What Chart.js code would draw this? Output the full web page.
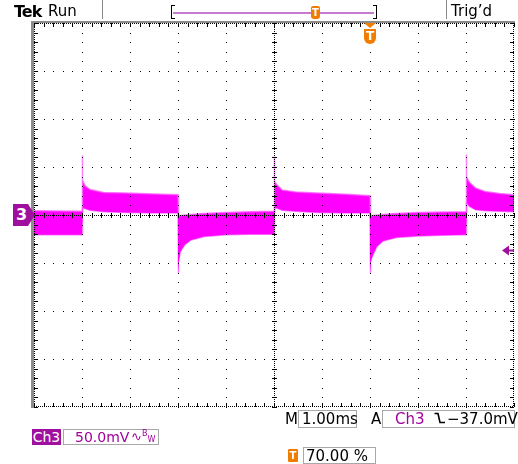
<!DOCTYPE html>
<html>
<head>
<meta charset="utf-8">
<script src="https://cdn.jsdelivr.net/npm/chart.js@4.4.1/dist/chart.umd.min.js"></script>
<style>
  html, body { margin: 0; padding: 0; background: #fff; }
  #wrap { position: relative; width: 518px; height: 464px; overflow: hidden;
          font-family: "DejaVu Sans", sans-serif; color: #000; }
  #wrap canvas { position: absolute; left: 0; top: 0; }
  .t { position: absolute; white-space: nowrap; line-height: 1; }
  .box { position: absolute; border: 1px solid #a8a8a8; box-sizing: border-box; }
  .sep { position: absolute; width: 1px; background: #8a8a8a; }
  .purple { color: #a0009c; }
  .tbadge { position: absolute; background: #f07c00; color: #fff; font: bold 10px "DejaVu Sans", sans-serif;
            text-align: center; }
</style>
</head>
<body>
<div id="wrap">
  <canvas id="scope"></canvas>

  <!-- status line on top -->
  <div class="t" style="left:14px;top:4px;font-size:16px;font-weight:bold;letter-spacing:-1px">Tek</div>
  <div class="t" style="left:48px;top:4px;font-size:15px">Run</div>
  <div class="sep" style="left:102px;top:0;height:19px"></div>
  <div style="position:absolute;left:171px;top:5px;width:3px;height:12px;border:1px solid #000;border-right:none"></div>
  <div style="position:absolute;left:373px;top:5px;width:3px;height:12px;border:1px solid #000;border-left:none"></div>
  <div style="position:absolute;left:173px;top:12px;width:201px;height:2px;background:#c77ad0"></div>
  <div class="tbadge" style="left:311px;top:6px;width:9px;height:13px;line-height:14px;border-radius:2px 2px 3px 3px">T</div>
  <div class="sep" style="left:446px;top:0;height:19px"></div>
  <div class="t" style="left:451px;top:4px;font-size:15px">Trig’d</div>

  <!-- markers placed from the scales -->
  <div id="mark3" style="position:absolute;left:13px;top:204px;width:22px;height:22px;background:#a0109f;
       clip-path:polygon(0 0,68% 0,100% 50%,68% 100%,0 100%)">
    <div class="t" style="left:3px;top:3px;font-size:16px;font-weight:bold;color:#fff">3</div>
  </div>
  <div id="trigMark" style="position:absolute;left:364px;top:23px;width:12px;height:21px">
    <div style="position:absolute;left:0;top:0;width:12px;height:5px;background:#f07c00;clip-path:polygon(0 0,100% 0,50% 100%)"></div>
    <div class="tbadge" style="left:0;top:6px;width:12px;height:15px;line-height:14px;font-size:12px;border-radius:0 0 6px 6px">T</div>
  </div>

  <!-- readouts below -->
  <div class="t" style="left:285px;top:412px;font-size:15px">M</div>
  <div class="box" style="left:298px;top:410px;width:59px;height:18px"></div>
  <div class="t" id="tbText" style="left:302px;top:412px;font-size:15px"></div>
  <div class="t" style="left:371px;top:412px;font-size:15px">A</div>
  <div class="box" style="left:382px;top:410px;width:133px;height:18px"></div>
  <div class="t purple" style="left:395px;top:412px;font-size:15px">Ch3</div>
  <svg style="position:absolute;left:434px;top:412px" width="12" height="12"><path d="M0.5 1.5 H4 L6 10.5 H11" stroke="#000" stroke-width="1.6" fill="none"/></svg>
  <div class="t" id="lvlText" style="left:447px;top:412px;font-size:15px"></div>

  <div class="t" style="left:32px;top:429px;width:29px;height:16px;background:#a0109f;color:#fff;font-size:14px;line-height:16px;text-align:center">Ch3</div>
  <div class="box" style="left:63px;top:429px;width:96px;height:16px"></div>
  <div class="t purple" id="vdivText" style="left:75px;top:430px;font-size:14px"></div>
  <div class="t purple" style="left:131px;top:430px;font-size:13px">∿<span style="font-size:8px;vertical-align:5px">B</span><span style="font-size:8px;vertical-align:-1px">W</span></div>

  <div class="tbadge" style="left:288px;top:449px;width:10px;height:13px;line-height:13px;border-radius:1px">T</div>
  <div class="box" style="left:303px;top:447px;width:73px;height:17px"></div>
  <div class="t" id="posText" style="left:306px;top:449px;font-size:15px"></div>
</div>

<script>
// scope settings
const msPerDiv = 1;
const mvPerDiv = 50;
const timeLeft = -7;      // trigger at 70% of screen
const timeRight = 3;
const voltTop = 200;
const voltBottom = -200;
const trigLevelMv = -37.0;
const timebaseLabel = "1.00ms";
const voltsLabel = "50.0mV";
const trigPosLabel = "70.00 %";

// Ch3 trace envelope (noisy band): time in ms, upper and lower edge in mV
const timeMs = [
  -7, -6, -6, -5.98, -5.93, -5.83, -5.55, -5.1, -4.5, -4,
  -4, -3.98, -3.95, -3.86, -3.73, -3.45, -3, -2.5, -2,
  -2, -1.98, -1.93, -1.83, -1.55, -1.1, -0.5, 0,
  0, 0.02, 0.05, 0.14, 0.27, 0.55, 1, 1.5, 2,
  2, 2.02, 2.07, 2.2, 2.4, 2.7, 3
];
const upperMv = [
  4.5, 4, 62, 36, 30, 26.5, 23.5, 23, 22, 21,
  -3, -1.5, -0.5, 0, 0.5, 1.5, 2.5, 3.5, 4,
  61, 35, 31, 26, 24, 22.8, 21.5, 20,
  -3, -1.5, -0.5, 0, 0.5, 1.5, 2.5, 3, 3.5,
  63, 40, 34, 28, 24.5, 22.5, 21
];
const lowerMv = [
  -20.5, -20.5, 8, 7.5, 6.5, 5, 3.5, 2.5, 2, 2,
  -60.5, -48, -38, -31, -26, -22.5, -20.5, -20, -20,
  8, 7.5, 7, 5, 3.8, 2.5, 2, 2,
  -60.5, -48, -43, -33, -27, -23.5, -22, -21, -20.5,
  13, 12.5, 9, 5.5, 4.5, 4, 3.5
];

document.getElementById("tbText").textContent = timebaseLabel;
document.getElementById("lvlText").textContent = "\u2212" + Math.abs(trigLevelMv).toFixed(1) + "mV";
document.getElementById("vdivText").textContent = voltsLabel;
document.getElementById("posText").textContent = trigPosLabel;

const traceColor = "#ff00ff";
const fringeColor = "rgba(255, 90, 255, 0.75)";

// dotted graticule, drawn on top of the trace like on the scope screen
const graticule = {
  id: "graticule",
  afterDatasetsDraw(chart) {
    const { ctx, chartArea: a, scales: { x, y } } = chart;
    const L = Math.round(a.left), R = Math.round(a.right), T = Math.round(a.top), B = Math.round(a.bottom);
    const dot = (px, py) => ctx.fillRect(Math.round(px), Math.round(py), 1, 1);
    ctx.save();

    // frame
    ctx.fillStyle = "#8c8c8c";
    ctx.fillRect(L - 3, T - 2, 3, B - T + 3);
    ctx.fillRect(L - 3, T - 2, R - L + 4, 2);

    ctx.fillStyle = "#000";
    const minorT = msPerDiv / 5, minorV = mvPerDiv / 5;

    // major divisions
    for (let t = timeLeft + msPerDiv; t < timeRight - 0.001; t += msPerDiv) {
      const px = x.getPixelForValue(t);
      for (let v = voltBottom; v <= voltTop + 0.001; v += minorV) dot(px, y.getPixelForValue(v));
    }
    for (let v = voltBottom + mvPerDiv; v < voltTop - 0.001; v += mvPerDiv) {
      const py = y.getPixelForValue(v);
      for (let t = timeLeft; t <= timeRight + 0.001; t += minorT) dot(x.getPixelForValue(t), py);
    }

    // centre lines with minor ticks
    const cx = Math.round(x.getPixelForValue(timeLeft + 5 * msPerDiv));
    const cy = Math.round(y.getPixelForValue(0));
    for (let px = L; px <= R; px += 2) dot(px, cy);
    for (let py = T; py <= B; py += 2) dot(cx, py);
    for (let t = timeLeft; t <= timeRight + 0.001; t += minorT) {
      const px = Math.round(x.getPixelForValue(t));
      ctx.fillRect(px, cy - 2, 1, 5);
    }
    for (let v = voltBottom; v <= voltTop + 0.001; v += minorV) {
      const py = Math.round(y.getPixelForValue(v));
      ctx.fillRect(cx - 2, py, 5, 1);
    }

    // border: dense dots and inward ticks
    for (let px = L; px <= R; px += 2) { dot(px, T); dot(px, B - 1); }
    for (let py = T; py <= B; py += 2) { dot(L, py); dot(R - 1, py); }
    for (let t = timeLeft; t <= timeRight + 0.001; t += minorT) {
      const px = Math.round(x.getPixelForValue(t));
      ctx.fillRect(px, T, 1, 4);
      ctx.fillRect(px, B - 4, 1, 4);
    }
    for (let v = voltBottom; v <= voltTop + 0.001; v += minorV) {
      const py = Math.round(y.getPixelForValue(v));
      ctx.fillRect(L, py, 4, 1);
      ctx.fillRect(R - 4, py, 4, 1);
    }

    // trigger level arrow on the right edge
    const ty = y.getPixelForValue(trigLevelMv);
    ctx.fillStyle = "#a0109f";
    ctx.beginPath();
    ctx.moveTo(R - 12, ty);
    ctx.lineTo(R - 5, ty - 5);
    ctx.lineTo(R - 5, ty + 5);
    ctx.closePath();
    ctx.fill();
    ctx.fillRect(R - 6, ty - 1, 6, 2);
    ctx.restore();

    // channel and trigger markers follow the scales
    document.getElementById("mark3").style.top = (y.getPixelForValue(0) - 11) + "px";
    document.getElementById("trigMark").style.left = (x.getPixelForValue(0) - 6) + "px";
  }
};

const toPoints = (vals) => timeMs.map((t, i) => ({ x: t, y: vals[i] }));

new Chart(document.getElementById("scope"), {
  type: "line",
  data: {
    datasets: [{
      label: "Ch3 upper",
      data: toPoints(upperMv),
      borderColor: fringeColor,
      backgroundColor: traceColor,
      borderWidth: 1.5,
      pointRadius: 0,
      tension: 0,
      fill: "+1"
    }, {
      label: "Ch3 lower",
      data: toPoints(lowerMv),
      borderColor: fringeColor,
      borderWidth: 1.5,
      pointRadius: 0,
      tension: 0,
      fill: false
    }]
  },
  options: {
    responsive: true,
    maintainAspectRatio: false,
    animation: false,
    events: [],
    layout: { padding: { left: 34, right: 4, top: 23, bottom: 57 } },
    plugins: { legend: { display: false }, tooltip: { enabled: false } },
    scales: {
      x: { type: "linear", min: timeLeft, max: timeRight, display: false },
      y: { type: "linear", min: voltBottom, max: voltTop, display: false }
    }
  },
  plugins: [graticule]
});
</script>
</body>
</html>
